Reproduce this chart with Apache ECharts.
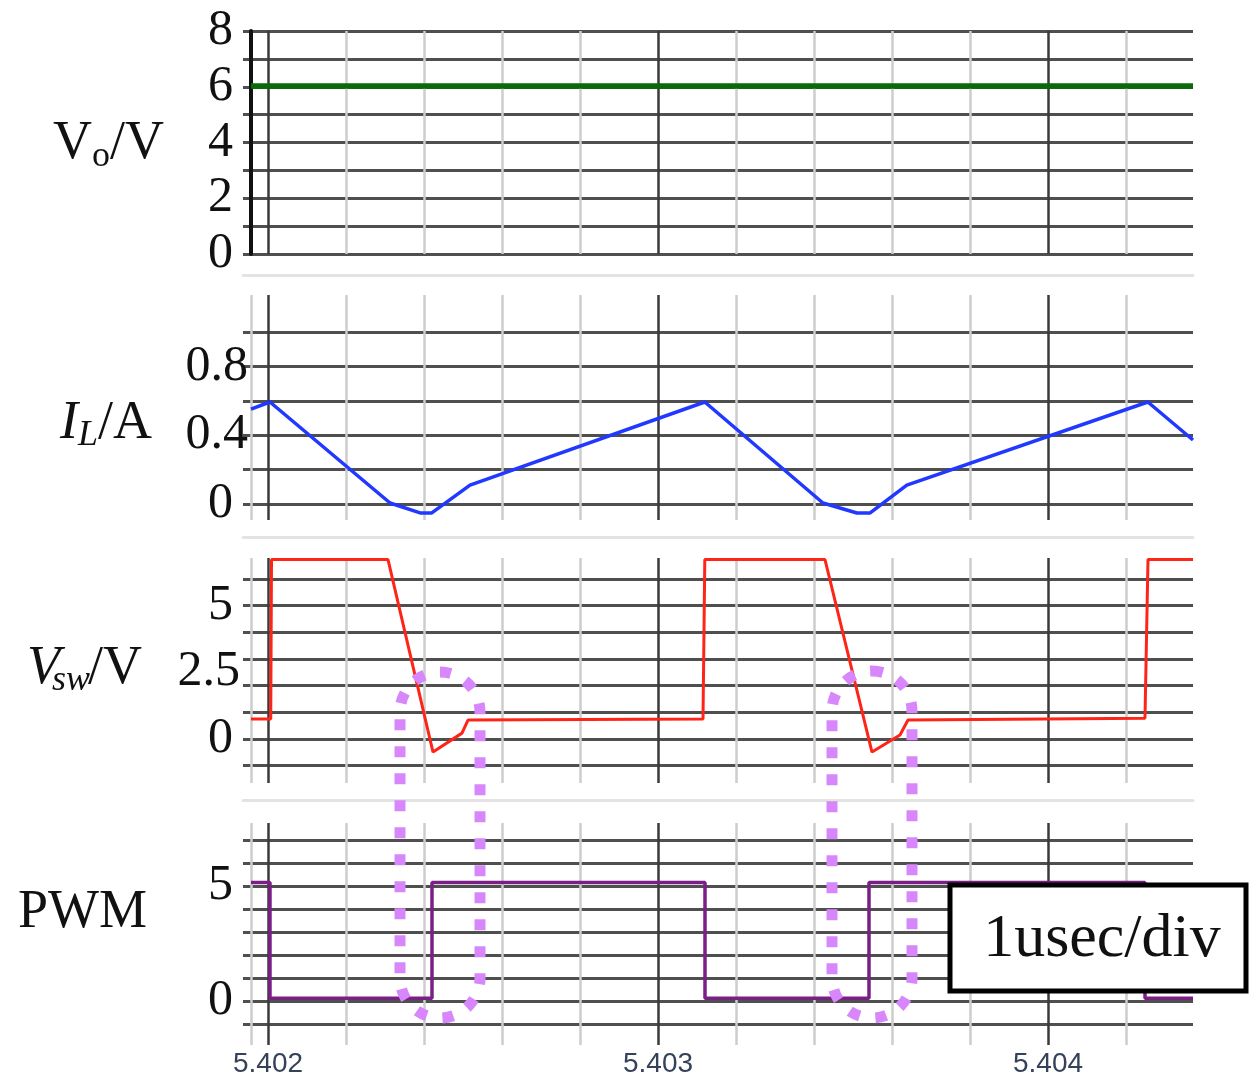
<!DOCTYPE html>
<html>
<head>
<meta charset="utf-8">
<script src="https://cdn.jsdelivr.net/npm/echarts@6/dist/echarts.min.js"></script>
<style>html,body{margin:0;padding:0;background:#fff}#c{width:1250px;height:1081px}</style>
</head>
<body>
<div id="c"></div>
<script>
// ---- time axis (ms) ----
const X_MIN = 5.4019359;
const X_MAX = 5.4043718;
const majorTicks = [5.402, 5.403, 5.404];
const minorTicks = [5.4019564, 5.4022, 5.4024, 5.4026, 5.4028, 5.4032, 5.4034, 5.4036, 5.4038, 5.4042];

// ---- Vo (V) ----
const voTime  = [5.4019564, 5.4043718];
const voValue = [6.03, 6.03];
const voTicks = [0, 1, 2, 3, 4, 5, 6, 7, 8];
const voLabels = [0, 2, 4, 6, 8];

// ---- IL (A) ----
const ilTime  = [5.4019564, 5.4020050, 5.4023130, 5.4023900, 5.4024200, 5.4025180, 5.4031200, 5.4034230, 5.4035100, 5.4035440, 5.4036380, 5.4042560, 5.4043718];
const ilValue = [0.552, 0.593, 0.006, -0.052, -0.052, 0.110, 0.593, 0.006, -0.052, -0.052, 0.110, 0.593, 0.372];
const ilTicks = [0, 0.2, 0.4, 0.6, 0.8, 1.0];
const ilLabels = [0, 0.4, 0.8];

// ---- Vsw (V) ----
const vswTime  = [5.4019564, 5.4020070, 5.4020090, 5.4023077, 5.4024231, 5.4024974, 5.4025128, 5.4031154, 5.4031200, 5.4034282, 5.4035487, 5.4036205, 5.4036410, 5.4042487, 5.4042564, 5.4043718];
const vswValue = [0.75, 0.75, 6.72, 6.72, -0.49, 0.22, 0.71, 0.75, 6.72, 6.72, -0.49, 0.15, 0.71, 0.78, 6.72, 6.72];
const vswTicks = [-1, 0, 1, 2, 3, 4, 5, 6];
const vswLabels = [0, 2.5, 5];

// ---- PWM (V) ----
const pwmTime  = [5.4019564, 5.4020051, 5.4020051, 5.4024205, 5.4024205, 5.4031205, 5.4031205, 5.4035410, 5.4035410, 5.4042487, 5.4042487, 5.4043718];
const pwmValue = [5.15, 5.15, 0.12, 0.12, 5.15, 5.15, 0.12, 0.12, 5.15, 5.15, 0.12, 0.12];
const pwmTicks = [-1, 0, 1, 2, 3, 4, 5, 6, 7];
const pwmLabels = [0, 5];

const zip = (a, b) => a.map((t, i) => [t, b[i]]);

const SERIF = '"Liberation Serif", "Times New Roman", serif';
const grids = [
  {left: 243, width: 950, top: 31, height: 223},
  {left: 243, width: 950, top: 295, height: 225},
  {left: 243, width: 950, top: 558, height: 225},
  {left: 243, width: 950, top: 823, height: 222}
];
const sepOffsets = [21, 17, 17, 0];
const yRanges = [[0, 8], [-0.093, 1.215], [-1.648, 6.779], [-1.913, 7.739]];
const yTickSets = [voTicks, ilTicks, vswTicks, pwmTicks];
const yLabelSets = [voLabels, ilLabels, vswLabels, pwmLabels];

const xAxis = [];
const yAxis = [];
grids.forEach((g, i) => {
  g.containLabel = false;
  g.outerBoundsMode = 'none';
  xAxis.push({
    type: 'value', gridIndex: i, min: X_MIN, max: X_MAX,
    offset: sepOffsets[i],
    axisLine: {show: i < 3, onZero: false, lineStyle: {color: '#e3e3e3', width: 3}},
    axisTick: {show: false, customValues: majorTicks},
    splitLine: {show: true, lineStyle: {color: '#3a3a3a', width: 2.5}},
    axisLabel: {show: i === 3, customValues: majorTicks, margin: 5,
      formatter: v => v.toFixed(3), color: '#36425a', fontSize: 28,
      fontFamily: '"Liberation Sans", Arial, sans-serif'}
  });
  xAxis.push({
    type: 'value', gridIndex: i, min: X_MIN, max: X_MAX,
    axisLine: {show: false}, axisLabel: {show: false},
    axisTick: {show: false, customValues: minorTicks},
    splitLine: {show: true, lineStyle: {color: '#cdcdcd', width: 2.5}}
  });
  let margin = 10, rich = {}, fmt = v => '' + v;
  if (i === 0) { margin = 18; }
  if (i === 1) {
    margin = -5;
    rich = {n: {}, z: {padding: [0, 15, 0, 0]}};
    fmt = v => v === 0 ? '{z|0}' : '{n|' + v + '}';
  }
  if (i === 2) {
    margin = 3;
    rich = {n: {}, z: {padding: [0, 7, 0, 0]}};
    fmt = v => v === 2.5 ? '{n|2.5}' : '{z|' + v + '}';
  }
  Object.keys(rich).forEach(k => { rich[k].fontFamily = SERIF; rich[k].fontSize = 50; rich[k].color = '#111'; });
  yAxis.push({
    type: 'value', gridIndex: i, min: yRanges[i][0], max: yRanges[i][1],
    offset: i === 0 ? -8 : 0,
    axisLine: {show: i === 0, onZero: false, lineStyle: {color: '#111', width: 4}},
    axisTick: {show: false, customValues: yTickSets[i]},
    splitLine: {show: true, lineStyle: {color: '#4f4f4f', width: 3}},
    axisLabel: {customValues: yLabelSets[i], margin: margin, formatter: fmt, rich: rich,
      fontFamily: SERIF, fontSize: 50, color: '#111'}
  });
});

const mkLine = (xi, yi, data, color, w) => ({
  type: 'line', xAxisIndex: xi, yAxisIndex: yi, data: data,
  showSymbol: false, symbol: 'none', animation: false, z: 5,
  lineStyle: {color: color, width: w}
});

function txt(x, y, s, size, italic, align) {
  return {type: 'text', x: x, y: y, z: 100,
    style: {text: s, fontFamily: SERIF, fontSize: size, fontStyle: italic ? 'italic' : 'normal',
      fill: '#111', align: align || 'left', verticalAlign: 'middle',
      textAlign: align || 'left', textVerticalAlign: 'middle'}};
}

const graphic = [
  txt(53, 144, 'V', 54, false), txt(92, 157, 'o', 36, false), txt(110, 144, '/V', 54, false),
  txt(60, 424, 'I', 54, true), txt(78, 436, 'L', 36, true), txt(98, 424, '/A', 54, false),
  txt(27, 669, 'V', 54, true), txt(52, 681, 'sw', 36, true), txt(88, 669, '/V', 54, false),
  txt(18, 913, 'PWM', 54, false),
  {type: 'rect', z: 90, shape: {x: 400, y: 672, width: 80, height: 346, r: 40},
    style: {fill: 'transparent', stroke: '#d787fb', lineWidth: 11, lineDash: [11, 16]}},
  {type: 'rect', z: 90, shape: {x: 832, y: 671, width: 80, height: 347, r: 40},
    style: {fill: 'transparent', stroke: '#d787fb', lineWidth: 11, lineDash: [11, 16]}},
  {type: 'rect', z: 95, shape: {x: 950, y: 885, width: 296, height: 106},
    style: {fill: '#fff', stroke: '#000', lineWidth: 5}},
  txt(1102, 940, '1usec/div', 62, false, 'center')
];

const chart = echarts.init(document.getElementById('c'), null, {renderer: 'canvas'});
chart.setOption({
  animation: false,
  backgroundColor: '#fff',
  grid: grids,
  xAxis: xAxis,
  yAxis: yAxis,
  series: [
    mkLine(0, 0, zip(voTime, voValue), '#0a6a0a', 5.5),
    mkLine(2, 1, zip(ilTime, ilValue), '#2038ff', 3.5),
    mkLine(4, 2, zip(vswTime, vswValue), '#ff2418', 3),
    mkLine(6, 3, zip(pwmTime, pwmValue), '#7a1f86', 3.5)
  ],
  graphic: graphic
});
</script>
</body>
</html>
